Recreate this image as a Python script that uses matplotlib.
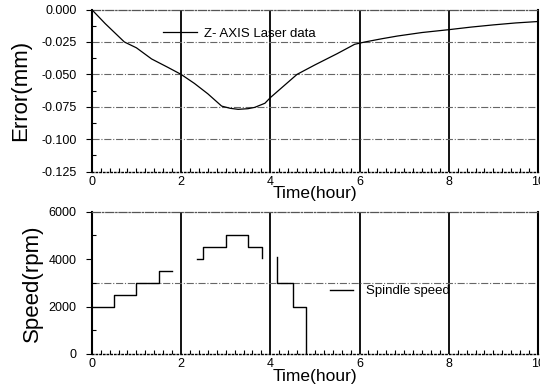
import numpy as np
import matplotlib
matplotlib.use("Agg")
import matplotlib.pyplot as plt
from matplotlib.ticker import MultipleLocator, FuncFormatter

plt.rcParams['font.family'] = ['Liberation Sans', 'DejaVu Sans']

# Z-axis thermal error (laser measurement)
time_err = [0, 0.3, 0.73, 1.0, 1.34, 1.7, 2.0, 2.3, 2.6, 2.91, 3.1, 3.28, 3.5,
            3.65, 3.88, 4.0, 4.3, 4.6, 5.0, 5.5, 5.89, 6.12, 6.5, 6.85, 7.4,
            8.0, 8.5, 9.0, 9.5, 10.0]
error_mm = [0, -0.0108, -0.025, -0.0295, -0.0381, -0.0445, -0.050, -0.057,
            -0.065, -0.0745, -0.0762, -0.077, -0.0765, -0.0755, -0.0723,
            -0.068, -0.059, -0.050, -0.0427, -0.034, -0.0268, -0.025, -0.0225,
            -0.0204, -0.0177, -0.0155, -0.0135, -0.0118, -0.0103, -0.0092]

# spindle speed schedule (gaps = no record)
time_spd = [0, 0.5, 1.0, 1.5, 1.8, np.nan,
            2.35, 2.5, 3.0, 3.5, 3.82, np.nan,
            4.16, 4.16, 4.5, 4.81]
speed_rpm = [2000, 2500, 3000, 3500, 3500, np.nan,
             4000, 4500, 5000, 4500, 4050, np.nan,
             4080, 3000, 2000, 0]

err_ticks = [0.000, -0.025, -0.050, -0.075, -0.100, -0.125]
spd_ticks = [0, 2000, 4000, 6000]
spd_ref = 3000


def style_axes(ax):
    ax.set_xlim(0, 10)
    ax.xaxis.set_major_locator(MultipleLocator(2))
    ax.xaxis.set_minor_locator(MultipleLocator(0.2))
    ax.tick_params(which='major', direction='out', length=4, width=0.8,
                   labelsize=9, pad=7)
    ax.tick_params(which='minor', direction='in', length=3, width=0.8)
    ax.tick_params(axis='x', which='major', length=0, pad=3)
    ax.spines['left'].set_linewidth(1.5)
    ax.spines['right'].set_linewidth(1.5)
    ax.spines['top'].set_linestyle('-.')
    ax.spines['top'].set_color('#555555')
    ax.spines['top'].set_linewidth(0.9)
    ax.spines['bottom'].set_linestyle(':')
    ax.spines['bottom'].set_linewidth(1.0)
    # vertical grid every 2 hours
    for x in [2, 4, 6, 8]:
        ax.axvline(x, color='black', lw=1.3, zorder=1)
    ax.set_xlabel("Time(hour)", fontsize=12.5, labelpad=-1)


fig = plt.figure(figsize=(5.4, 3.92), dpi=100)

# 1. error plot
ax1 = fig.add_axes([0.170, 0.5625, 0.8263, 0.413])
style_axes(ax1)
ax1.set_ylim(-0.125, 0)
ax1.set_yticks(err_ticks)
ax1.yaxis.set_minor_locator(MultipleLocator(0.0125))
ax1.yaxis.set_major_formatter(FuncFormatter(lambda v, p: "%.3f" % v if v != 0 else "0.000"))
for y in err_ticks[1:-1]:
    ax1.axhline(y, color='#666666', lw=0.8, ls='-.', zorder=1)
ax1.plot(time_err, error_mm, color='black', lw=0.9, label='Z- AXIS Laser data', zorder=3)
ax1.set_ylabel("Error(mm)", fontsize=16, labelpad=7)
ax1.legend(loc='center left', bbox_to_anchor=(0.16, 0.85), frameon=False,
           fontsize=9.5, handlelength=2.6, handletextpad=0.5,
           borderpad=0, borderaxespad=0)

# 2. spindle speed
ax2 = fig.add_axes([0.170, 0.097, 0.8263, 0.363])
style_axes(ax2)
ax2.set_ylim(0, 6000)
ax2.set_yticks(spd_ticks)
ax2.yaxis.set_minor_locator(MultipleLocator(1000))
ax2.axhline(spd_ref, color='#666666', lw=0.8, ls='-.', zorder=1)
ax2.plot(time_spd, speed_rpm, drawstyle='steps-post', color='black', lw=1.0,
         label='Spindle speed', zorder=3)
ax2.set_ylabel("Speed(rpm)", fontsize=16, labelpad=4)
ax2.legend(loc='center left', bbox_to_anchor=(0.534, 0.44), frameon=False,
           fontsize=9.5, handlelength=1.7, handletextpad=1.0,
           borderpad=0, borderaxespad=0)

fig.savefig("out.png", dpi=100)
